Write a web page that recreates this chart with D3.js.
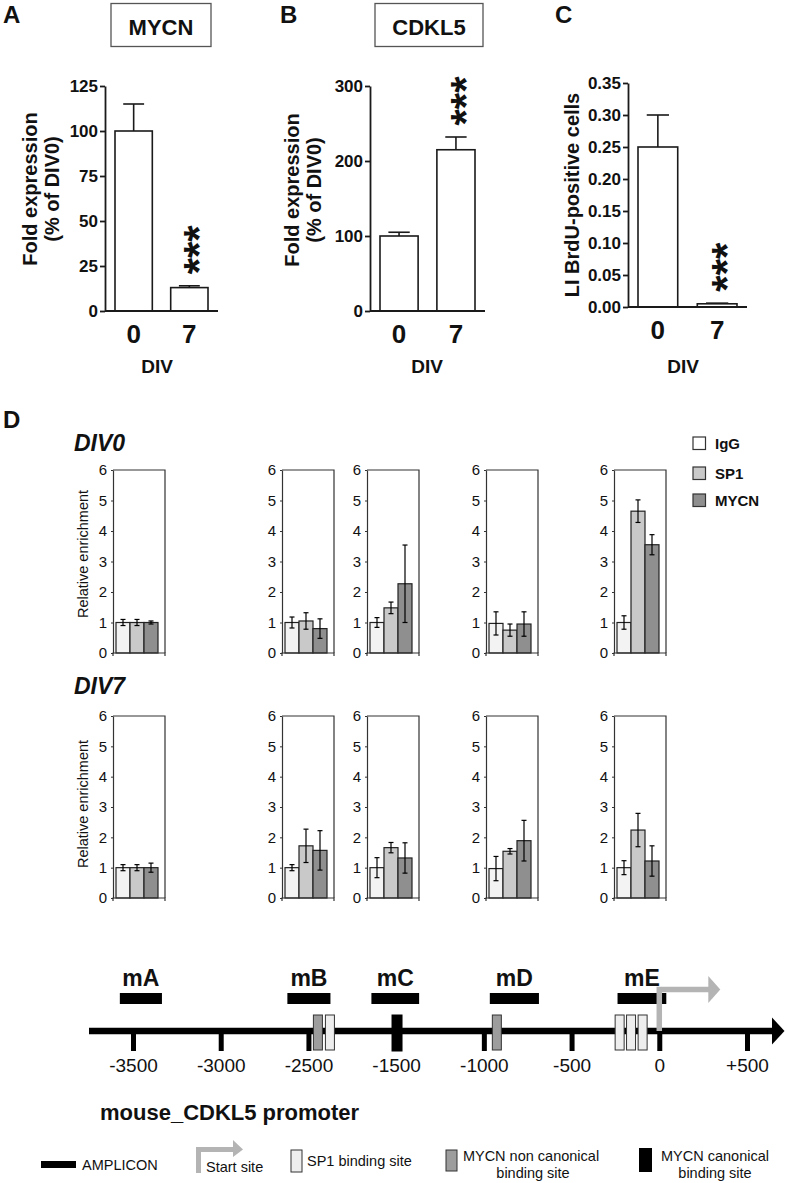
<!DOCTYPE html>
<html><head><meta charset="utf-8">
<script src="https://cdn.jsdelivr.net/npm/d3@7"></script>
<style>
body{margin:0;background:#fff}
svg{display:block}
text{font-family:"Liberation Sans",Arial,Helvetica,sans-serif;fill:#111}
</style>
</head><body>
<svg id="c" width="787" height="1183"></svg>
<script>
// ---------- DATA ----------
const topCats = ["0", "7"];
const mycnVals = [100, 13];
const mycnErr = [15, 1];
const mycnTicks = [0, 25, 50, 75, 100, 125];
const cdkl5Vals = [100, 215];
const cdkl5Err = [5, 17];
const cdkl5Ticks = [0, 100, 200, 300];
const brduVals = [0.25, 0.005];
const brduErr = [0.05, 0.001];
const brduTicks = [0, 0.05, 0.10, 0.15, 0.20, 0.25, 0.30, 0.35];

const dSeries = ["IgG", "SP1", "MYCN"];
const dTicks = [0, 1, 2, 3, 4, 5, 6];
const div0Vals = [[1.0, 1.0, 1.0], [1.0, 1.05, 0.8], [1.0, 1.48, 2.27], [0.97, 0.75, 0.95], [1.0, 4.65, 3.55]];
const div0Err  = [[0.1, 0.1, 0.05], [0.18, 0.27, 0.32], [0.16, 0.19, 1.27], [0.38, 0.2, 0.4], [0.22, 0.37, 0.33]];
const div7Vals = [[1.0, 1.0, 1.0], [1.0, 1.72, 1.57], [1.0, 1.66, 1.32], [0.97, 1.54, 1.89], [1.0, 2.24, 1.22]];
const div7Err  = [[0.1, 0.1, 0.15], [0.1, 0.55, 0.65], [0.33, 0.17, 0.5], [0.4, 0.09, 0.67], [0.23, 0.55, 0.5]];

const promoterTickLabels = ["-3500", "-3000", "-2500", "-1500", "-1000", "-500", "0", "+500"];
const promoterTickBp = [-3500, -3000, -2500, -1500, -1000, -500, 0, 500];
const ampliconNames = ["mA", "mB", "mC", "mD", "mE"];
const ampliconStart = [-3575, -2620, -1782, -966, -238];
const ampliconEnd = [-3335, -2249, -1369, -686, 40];
const siteBp = [-2392, -2255, -1495, -926, -226, -161, -95];
const siteType = ["nc", "sp1", "can", "nc", "sp1", "sp1", "sp1"];

// ---------- STYLE ----------
const INK = "#1a1a1a";
const dFill = {IgG: "#f3f3f3", SP1: "#c9c9c9", MYCN: "#8f8f8f"};
const siteFill = {sp1: "#eeeeee", nc: "#9d9d9d", can: "#000"};
const startGrey = "#b4b4b4";

const svg = d3.select("#c");

// ---------- TOP PANELS ----------
function topPanel(c) {
  const g = svg.append("g");
  const y = d3.scaleLinear().domain([0, c.max]).range([c.yBot, c.yTop]);
  const x = d3.scaleBand().domain(topCats).range([c.x0 + 10, c.x0 + c.W - 10]).paddingInner(0.33);
  const bw = x.bandwidth();

  // error bars (upward only)
  g.selectAll("line.err").data(topCats).join("line")
    .attr("x1", d => x(d) + bw / 2).attr("x2", d => x(d) + bw / 2)
    .attr("y1", (d, i) => y(c.vals[i])).attr("y2", (d, i) => y(c.vals[i] + c.errs[i]))
    .attr("stroke", INK).attr("stroke-width", 1.6);
  g.selectAll("line.cap").data(topCats).join("line")
    .attr("x1", d => x(d) + bw * 0.22).attr("x2", d => x(d) + bw * 0.78)
    .attr("y1", (d, i) => y(c.vals[i] + c.errs[i])).attr("y2", (d, i) => y(c.vals[i] + c.errs[i]))
    .attr("stroke", INK).attr("stroke-width", 1.6);
  // bars
  g.selectAll("rect.bar").data(topCats).join("rect")
    .attr("x", d => x(d)).attr("width", bw)
    .attr("y", (d, i) => y(c.vals[i])).attr("height", (d, i) => c.yBot - y(c.vals[i]))
    .attr("fill", "#fff").attr("stroke", INK).attr("stroke-width", 1.6);

  // y axis
  const ya = g.append("g").attr("transform", `translate(${c.x0},0)`)
    .call(d3.axisLeft(y).tickValues(c.ticks).tickSize(5).tickSizeOuter(0).tickPadding(2).tickFormat(c.fmt));
  ya.select(".domain").attr("stroke", INK).attr("stroke-width", 1.8);
  ya.selectAll(".tick line").attr("stroke", INK).attr("stroke-width", 1.8);
  ya.selectAll("text").attr("font-size", 17).attr("font-weight", "bold").attr("fill", "#111")
    .attr("font-family", "Liberation Sans, Arial, sans-serif");

  // x axis (category labels)
  const xa = g.append("g").attr("transform", `translate(0,${c.yBot})`)
    .call(d3.axisBottom(x).tickSize(0).tickPadding(14));
  xa.select(".domain").remove();
  xa.selectAll("text").attr("font-size", 26).attr("font-weight", "bold").attr("fill", "#111")
    .attr("font-family", "Liberation Sans, Arial, sans-serif");
  g.append("line").attr("x1", c.x0).attr("x2", c.x0 + c.W).attr("y1", c.yBot).attr("y2", c.yBot)
    .attr("stroke", INK).attr("stroke-width", 1.8);

  // stars
  g.selectAll("text.star").data([1]).join("text")
    .attr("transform", `translate(${x("7") + bw / 2 + 24},${y(c.vals[1] + c.errs[1]) - 36}) rotate(-90)`)
    .attr("text-anchor", "middle").attr("font-size", 42).attr("font-weight", "bold").text("***");

  // y label
  c.ylab.forEach((t, i) => {
    g.append("text").attr("transform", `translate(${c.ylabX[i]},${c.ylabY}) rotate(-90)`)
      .attr("text-anchor", "middle").attr("font-size", 20).attr("font-weight", "bold").text(t);
  });
  // DIV
  g.append("text").attr("x", c.divX).attr("y", 373).attr("text-anchor", "middle")
    .attr("font-size", 19).attr("font-weight", "bold").text("DIV");
  // letter
  g.append("text").attr("x", c.letterX).attr("y", 23).attr("font-size", 24).attr("font-weight", "bold").text(c.letter);
  // title box
  if (c.title) {
    g.append("rect").attr("x", c.title.x).attr("y", 3.5).attr("width", c.title.w).attr("height", 43)
      .attr("fill", "#fff").attr("stroke", "#555").attr("stroke-width", 1.3);
    g.append("text").attr("x", c.title.x + c.title.w / 2).attr("y", 35).attr("text-anchor", "middle")
      .attr("font-size", 22).attr("font-weight", "bold").text(c.title.t);
  }
}

topPanel({x0: 105, W: 113, yTop: 86, yBot: 311, max: 125, ticks: mycnTicks, fmt: d3.format("d"),
  vals: mycnVals, errs: mycnErr, ylab: ["Fold expression", "(% of DIV0)"], ylabX: [37, 59], ylabY: 189,
  divX: 157, letter: "A", letterX: 3, title: {x: 111, w: 100, t: "MYCN"}});
topPanel({x0: 370, W: 115, yTop: 86, yBot: 311, max: 300, ticks: cdkl5Ticks, fmt: d3.format("d"),
  vals: cdkl5Vals, errs: cdkl5Err, ylab: ["Fold expression", "(% of DIV0)"], ylabX: [299, 321], ylabY: 190,
  divX: 427, letter: "B", letterX: 280, title: {x: 375, w: 108, t: "CDKL5"}});
topPanel({x0: 628, W: 119, yTop: 83, yBot: 307, max: 0.35, ticks: brduTicks, fmt: d3.format(".2f"),
  vals: brduVals, errs: brduErr, ylab: ["LI BrdU-positive cells"], ylabX: [579], ylabY: 195,
  divX: 683, letter: "C", letterX: 555, title: null});

// ---------- PANEL D ----------
svg.append("text").attr("x", 3).attr("y", 428).attr("font-size", 24).attr("font-weight", "bold").text("D");
const dX0 = [113, 282, 367, 486, 614];
const dW = 52;

function dRow(vals, errs, top, bot, label, labelY, ylabY) {
  const y = d3.scaleLinear().domain([0, 6]).range([bot, top]);
  svg.append("text").attr("x", 74).attr("y", labelY).attr("font-size", 23).attr("font-weight", "bold")
    .attr("font-style", "italic").text(label);
  svg.append("text").attr("transform", `translate(88,${ylabY}) rotate(-90)`).attr("text-anchor", "middle")
    .attr("font-size", 14.5).text("Relative enrichment");
  dX0.forEach((x0, k) => {
    const g = svg.append("g");
    const x = d3.scaleBand().domain(dSeries).range([x0 + 3, x0 + 45]).padding(0);
    const bw = x.bandwidth();
    // frame
    g.append("path").attr("d", `M${x0},${top}H${x0 + dW}V${bot}`).attr("fill", "none")
      .attr("stroke", "#333").attr("stroke-width", 1.2);
    g.selectAll("rect").data(dSeries).join("rect")
      .attr("x", d => x(d)).attr("width", bw)
      .attr("y", (d, i) => y(vals[k][i])).attr("height", (d, i) => bot - y(vals[k][i]))
      .attr("fill", d => dFill[d]).attr("stroke", "#222").attr("stroke-width", 1.2);
    const eb = g.selectAll("g.eb").data(dSeries).join("g");
    eb.append("line").attr("x1", d => x(d) + bw / 2).attr("x2", d => x(d) + bw / 2)
      .attr("y1", (d, i) => y(vals[k][i] - errs[k][i])).attr("y2", (d, i) => y(vals[k][i] + errs[k][i]))
      .attr("stroke", "#000").attr("stroke-width", 1.2);
    eb.append("line").attr("x1", d => x(d) + bw / 2 - 2.5).attr("x2", d => x(d) + bw / 2 + 2.5)
      .attr("y1", (d, i) => y(vals[k][i] + errs[k][i])).attr("y2", (d, i) => y(vals[k][i] + errs[k][i]))
      .attr("stroke", "#000").attr("stroke-width", 1.2);
    eb.append("line").attr("x1", d => x(d) + bw / 2 - 2.5).attr("x2", d => x(d) + bw / 2 + 2.5)
      .attr("y1", (d, i) => y(vals[k][i] - errs[k][i])).attr("y2", (d, i) => y(vals[k][i] - errs[k][i]))
      .attr("stroke", "#000").attr("stroke-width", 1.2);
    // axis
    const ya = g.append("g").attr("transform", `translate(${x0},0)`)
      .call(d3.axisLeft(y).tickValues(dTicks).tickSize(2).tickSizeOuter(0).tickPadding(4).tickFormat(d3.format("d")));
    ya.select(".domain").attr("stroke", "#333").attr("stroke-width", 1.2);
    ya.selectAll(".tick line").attr("stroke", "#333");
    ya.selectAll("text").attr("font-size", 15).attr("fill", "#222").attr("font-family", "Liberation Sans, Arial, sans-serif");
    // bottom axis with end ticks
    g.append("path").attr("d", `M${x0},${bot + 3}V${bot}H${x0 + dW}V${bot + 3}`).attr("fill", "none")
      .attr("stroke", "#333").attr("stroke-width", 1.2);
  });
}
dRow(div0Vals, div0Err, 470, 653, "DIV0", 451, 554);
dRow(div7Vals, div7Err, 716, 898, "DIV7", 694, 804);

// legend D
const lgY = [437, 467, 494];
dSeries.forEach((s, i) => {
  svg.append("rect").attr("x", 693).attr("y", lgY[i]).attr("width", 12.5).attr("height", 12.5)
    .attr("fill", dFill[s] === "#f3f3f3" ? "#fff" : dFill[s]).attr("stroke", "#333").attr("stroke-width", 1.2);
  svg.append("text").attr("x", 715).attr("y", lgY[i] + 12).attr("font-size", 15).attr("font-weight", "bold").text(s);
});

// ---------- PROMOTER ----------
const pt = d3.scalePoint().domain(promoterTickLabels).range([133, 747]);
const bp = d3.scaleLinear().domain(promoterTickBp).range(promoterTickLabels.map(t => pt(t)));
const lineY = 1031;
const pa = svg.append("g").attr("transform", `translate(0,${lineY})`)
  .call(d3.axisBottom(pt).tickSize(20).tickPadding(7.5));
pa.select(".domain").remove();
pa.selectAll(".tick line").attr("stroke", "#000").attr("stroke-width", 5);
pa.selectAll("text").attr("font-size", 19).attr("fill", "#111").attr("font-family", "Liberation Sans, Arial, sans-serif");
// main line + arrow
svg.append("line").attr("x1", 89).attr("x2", 774).attr("y1", lineY).attr("y2", lineY)
  .attr("stroke", "#000").attr("stroke-width", 6.5);
svg.append("path").attr("d", `M772,${lineY - 13.5}L784.5,${lineY}L772,${lineY + 13.5}Z`).attr("fill", "#000");
// sites
svg.selectAll("rect.site").data(siteBp).join("rect")
  .attr("x", (d, i) => bp(d) - (siteType[i] === "can" ? 5 : 4.5))
  .attr("width", (d, i) => siteType[i] === "can" ? 10 : 9)
  .attr("y", 1015).attr("height", (d, i) => siteType[i] === "can" ? 36 : 35)
  .attr("fill", (d, i) => siteFill[siteType[i]])
  .attr("stroke", (d, i) => siteType[i] === "can" ? "#000" : "#333").attr("stroke-width", 1);
// amplicons
svg.selectAll("rect.amp").data(ampliconNames).join("rect")
  .attr("x", (d, i) => bp(ampliconStart[i])).attr("width", (d, i) => bp(ampliconEnd[i]) - bp(ampliconStart[i]))
  .attr("y", 993).attr("height", 11).attr("fill", "#000");
svg.selectAll("text.amp").data(ampliconNames).join("text")
  .attr("x", (d, i) => (bp(ampliconStart[i]) + bp(ampliconEnd[i])) / 2).attr("y", 986)
  .attr("text-anchor", "middle").attr("font-size", 23).attr("font-weight", "bold").text(d => d);
// start site arrow
const s0 = bp(0);
svg.append("path").attr("d", `M${s0},${lineY}V989.5H${s0 + 50}`).attr("fill", "none")
  .attr("stroke", startGrey).attr("stroke-width", 5.5);
svg.append("path").attr("d", `M${s0 + 49},976L${s0 + 61},989.5L${s0 + 49},1003Z`).attr("fill", startGrey);

svg.append("text").attr("x", 100).attr("y", 1120).attr("font-size", 22).attr("font-weight", "bold").text("mouse_CDKL5 promoter");

// ---------- LEGEND (bottom) ----------
svg.append("rect").attr("x", 41).attr("y", 1161).attr("width", 35).attr("height", 7).attr("fill", "#000");
svg.append("text").attr("x", 82).attr("y", 1170).attr("font-size", 14.5).text("AMPLICON");
svg.append("path").attr("d", "M198.5,1173V1149.5H234").attr("fill", "none").attr("stroke", startGrey).attr("stroke-width", 5);
svg.append("path").attr("d", "M233,1140L243,1149.5L233,1157Z").attr("fill", startGrey);
svg.append("text").attr("x", 206).attr("y", 1172).attr("font-size", 14.5).text("Start site");
svg.append("rect").attr("x", 291).attr("y", 1150).attr("width", 11).attr("height", 22).attr("fill", siteFill.sp1).attr("stroke", "#333");
svg.append("text").attr("x", 307).attr("y", 1166).attr("font-size", 14.5).text("SP1 binding site");
svg.append("rect").attr("x", 446).attr("y", 1150).attr("width", 11).attr("height", 21).attr("fill", siteFill.nc).attr("stroke", "#333");
svg.append("text").attr("x", 531).attr("y", 1161).attr("text-anchor", "middle").attr("font-size", 14.5).text("MYCN non canonical");
svg.append("text").attr("x", 533).attr("y", 1178).attr("text-anchor", "middle").attr("font-size", 14.5).text("binding site");
svg.append("rect").attr("x", 639).attr("y", 1148).attr("width", 13).attr("height", 24).attr("fill", "#000");
svg.append("text").attr("x", 715).attr("y", 1161).attr("text-anchor", "middle").attr("font-size", 14.5).text("MYCN canonical");
svg.append("text").attr("x", 715).attr("y", 1178).attr("text-anchor", "middle").attr("font-size", 14.5).text("binding site");
</script>
</body></html>
